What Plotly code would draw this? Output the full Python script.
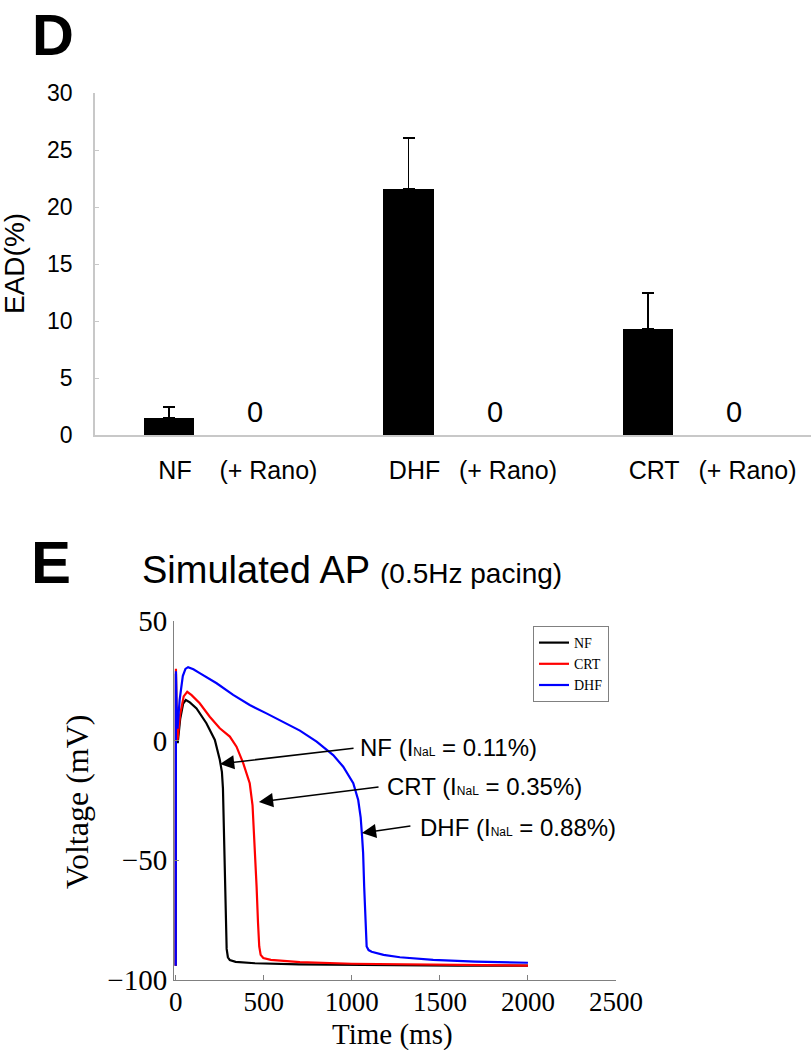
import plotly.graph_objects as go

# ---------------- Panel D data ----------------
groups = ["NF", "DHF", "CRT"]
rano_label = "(+ Rano)"
ead_mean = [1.5, 21.6, 9.3]
ead_err = [0.95, 4.45, 3.15]
rano_values = [0, 0, 0]
ead_ticks = [0, 5, 10, 15, 20, 25, 30]

# ---------------- Panel E data ----------------
nf_t = [0, 1, 3, 11, 25, 42, 57, 80, 118, 174, 222, 250, 262, 268, 272, 277, 283, 289, 296, 307, 340, 450, 700, 1100, 1600, 2000]
nf_v = [-94, 28, 14, -1, 9, 15.5, 17, 16, 13.5, 7.3, 0.3, -8, -13, -20, -33, -52, -72, -87, -90.5, -91.7, -92.4, -93, -93.5, -93.8, -94, -94]

crt_t = [0, 1, 3, 10, 25, 45, 65, 90, 136, 193, 250, 307, 345, 383, 420, 436, 442, 450, 459, 467, 474, 482, 497, 540, 705, 1000, 1460, 2000]
crt_v = [-94, 30, 16, 0.3, 11, 18.5, 20.4, 19, 15.6, 10, 5.2, 1.7, -2.5, -9.4, -17.8, -27, -35, -47, -61, -76, -86, -89.5, -90.8, -91.6, -92.5, -93.2, -93.7, -94]

dhf_t = [0, 1, 4, 10, 22, 40, 55, 70, 100, 136, 232, 326, 420, 515, 610, 705, 800, 894, 951, 1008, 1036, 1050, 1058, 1064, 1070, 1078, 1084, 1095, 1112, 1180, 1273, 1462, 1700, 2000]
dhf_v = [-94, 29, 15, 5, 17, 27, 30, 30.7, 29.8, 28.2, 24, 19.1, 14.9, 11.4, 7.9, 4.2, -0.4, -6, -10.9, -17.8, -24.8, -32, -40, -47, -61, -75, -86, -87.5, -88.2, -89.5, -90.5, -91.6, -92.3, -92.8]

series_names = ["NF", "CRT", "DHF"]
series_colors = ["#000000", "#ff0000", "#0000ff"]
inal_labels = ["0.11%", "0.35%", "0.88%"]

W, H = 811, 1050
SANS = "Arial, Liberation Sans, sans-serif"
SERIF = "Times New Roman, Liberation Serif, serif"

gx = [2 * i for i in range(len(groups))]

fig = go.Figure()

# Bars with upward error bars
fig.add_trace(go.Bar(
    x=gx, y=ead_mean, width=0.42,
    marker=dict(color="black", line=dict(width=0)),
    error_y=dict(type="data", symmetric=False, array=ead_err,
                 arrayminus=[0] * len(ead_err), color="black",
                 thickness=1.5, width=6),
    showlegend=False, xaxis="x", yaxis="y", hoverinfo="skip",
))

# AP traces
for name, col, tt, vv in zip(series_names, series_colors,
                             [nf_t, crt_t, dhf_t], [nf_v, crt_v, dhf_v]):
    fig.add_trace(go.Scatter(x=tt, y=vv, mode="lines", name=name,
                             line=dict(color=col, width=2.2),
                             xaxis="x2", yaxis="y2"))

annotations = []

# zero value labels for +Rano
for g, val in zip(gx, rano_values):
    annotations.append(dict(x=g + 0.72, y=val, xref="x", yref="y",
                            text=str(val), showarrow=False, yanchor="middle",
                            yshift=23, font=dict(family=SANS, size=29, color="black")))

# panel letters and titles
annotations.append(dict(x=30 / W, y=1.0, xref="paper", yref="paper",
                        text="<b>D</b>", showarrow=False, xanchor="left", yanchor="top",
                        font=dict(family=SANS, size=58, color="black")))
annotations.append(dict(x=29 / W, y=1 - 562 / H, xref="paper", yref="paper",
                        text="<b>E</b>", showarrow=False, xanchor="left", yanchor="middle",
                        font=dict(family=SANS, size=60, color="black")))
annotations.append(dict(x=140 / W, y=1 - 570 / H, xref="paper", yref="paper",
                        text="Simulated AP <span style='font-size:28px'>(0.5Hz pacing)</span>",
                        showarrow=False, xanchor="left", yanchor="middle",
                        font=dict(family=SANS, size=38, color="black")))

# axis titles
annotations.append(dict(x=14 / W, y=1 - 264 / H, xref="paper", yref="paper",
                        text="EAD(%)", textangle=-90, showarrow=False,
                        xanchor="center", yanchor="middle",
                        font=dict(family=SANS, size=28, color="black")))
annotations.append(dict(x=77 / W, y=1 - 802 / H, xref="paper", yref="paper",
                        text="Voltage (mV)", textangle=-90, showarrow=False,
                        xanchor="center", yanchor="middle",
                        font=dict(family=SERIF, size=32, color="black")))
annotations.append(dict(x=392 / W, y=1 - 1034 / H, xref="paper", yref="paper",
                        text="Time (ms)", showarrow=False,
                        xanchor="center", yanchor="middle",
                        font=dict(family=SERIF, size=29, color="black")))

# arrows + labels in panel E
arrow_tail = [(1018, -3.05), (1160, -19.3), (1341, -35.6)]
arrow_head = [(251, -9.7), (472, -25.6), (1057, -38.6)]
text_pos = [(1035, -3.05), (1188, -19.3), (1375, -36.1)]
for name, lab, (tx, ty), (hx, hy), (px, py) in zip(series_names, inal_labels,
                                                    arrow_tail, arrow_head, text_pos):
    annotations.append(dict(x=hx, y=hy, ax=tx, ay=ty, xref="x2", yref="y2",
                            axref="x2", ayref="y2", text="", showarrow=True,
                            arrowhead=2, arrowsize=1.9, arrowwidth=1.5,
                            arrowcolor="black"))
    annotations.append(dict(x=px, y=py, xref="x2", yref="y2",
                            text=f"{name} (I<span style='font-size:12px'>NaL</span> = {lab})",
                            showarrow=False, xanchor="left", yanchor="middle",
                            font=dict(family=SANS, size=24, color="black")))

tickvals_d, ticktext_d = [], []
for g, name in zip(gx, groups):
    tickvals_d += [g + 0.05, g + 0.83]
    ticktext_d += [name, rano_label]

fig.update_layout(
    width=W, height=H,
    margin=dict(l=0, r=0, t=0, b=0, autoexpand=False),
    paper_bgcolor="white", plot_bgcolor="white",
    bargap=0,
    xaxis=dict(domain=[95 / W, 1.0], range=[-0.618, 5.36], automargin=False,
               showgrid=False, zeroline=False, showline=True,
               linecolor="#c8c8c8", linewidth=1.5, ticks="",
               tickvals=tickvals_d, ticktext=ticktext_d,
               tickfont=dict(family=SANS, size=25, color="black"),
               ticklabelstandoff=12, anchor="y"),
    yaxis=dict(domain=[1 - 435 / H, 1 - 93 / H], range=[0, 30], automargin=False,
               tickvals=ead_ticks, showgrid=False, zeroline=False,
               showline=True, linecolor="#c8c8c8", linewidth=1.5,
               ticks="inside", ticklen=4, tickcolor="#c8c8c8",
               tickfont=dict(family=SANS, size=23, color="black"),
               ticklabelstandoff=16, anchor="x"),
    xaxis2=dict(domain=[174 / W, 616 / W], range=[-10, 2500], automargin=False,
                tickvals=[0, 500, 1000, 1500, 2000, 2500],
                showgrid=False, zeroline=False, showline=True,
                linecolor="#808080", linewidth=1,
                ticks="inside", ticklen=5, tickcolor="#808080",
                tickfont=dict(family=SERIF, size=27, color="black"),
                ticklabelstandoff=-2, anchor="y2"),
    yaxis2=dict(domain=[1 - 980 / H, 1 - 621 / H], range=[-100, 50], automargin=False,
                tickvals=[-100, -50, 0, 50],
                showgrid=False, zeroline=False, showline=True,
                linecolor="#808080", linewidth=1,
                ticks="inside", ticklen=5, tickcolor="#808080",
                tickfont=dict(family=SERIF, size=29, color="black"),
                anchor="x2"),
    legend=dict(x=533 / W, y=1 - 626 / H, xanchor="left", yanchor="top",
                bgcolor="white", bordercolor="#808080", borderwidth=1,
                font=dict(family=SERIF, size=14, color="black"),
                itemwidth=30, tracegroupgap=0),
    annotations=annotations,
)

fig.write_html("out.html", config={"displayModeBar": False},
               post_script="document.body.style.margin='0';document.body.style.padding='0';document.body.style.overflow='hidden';")
